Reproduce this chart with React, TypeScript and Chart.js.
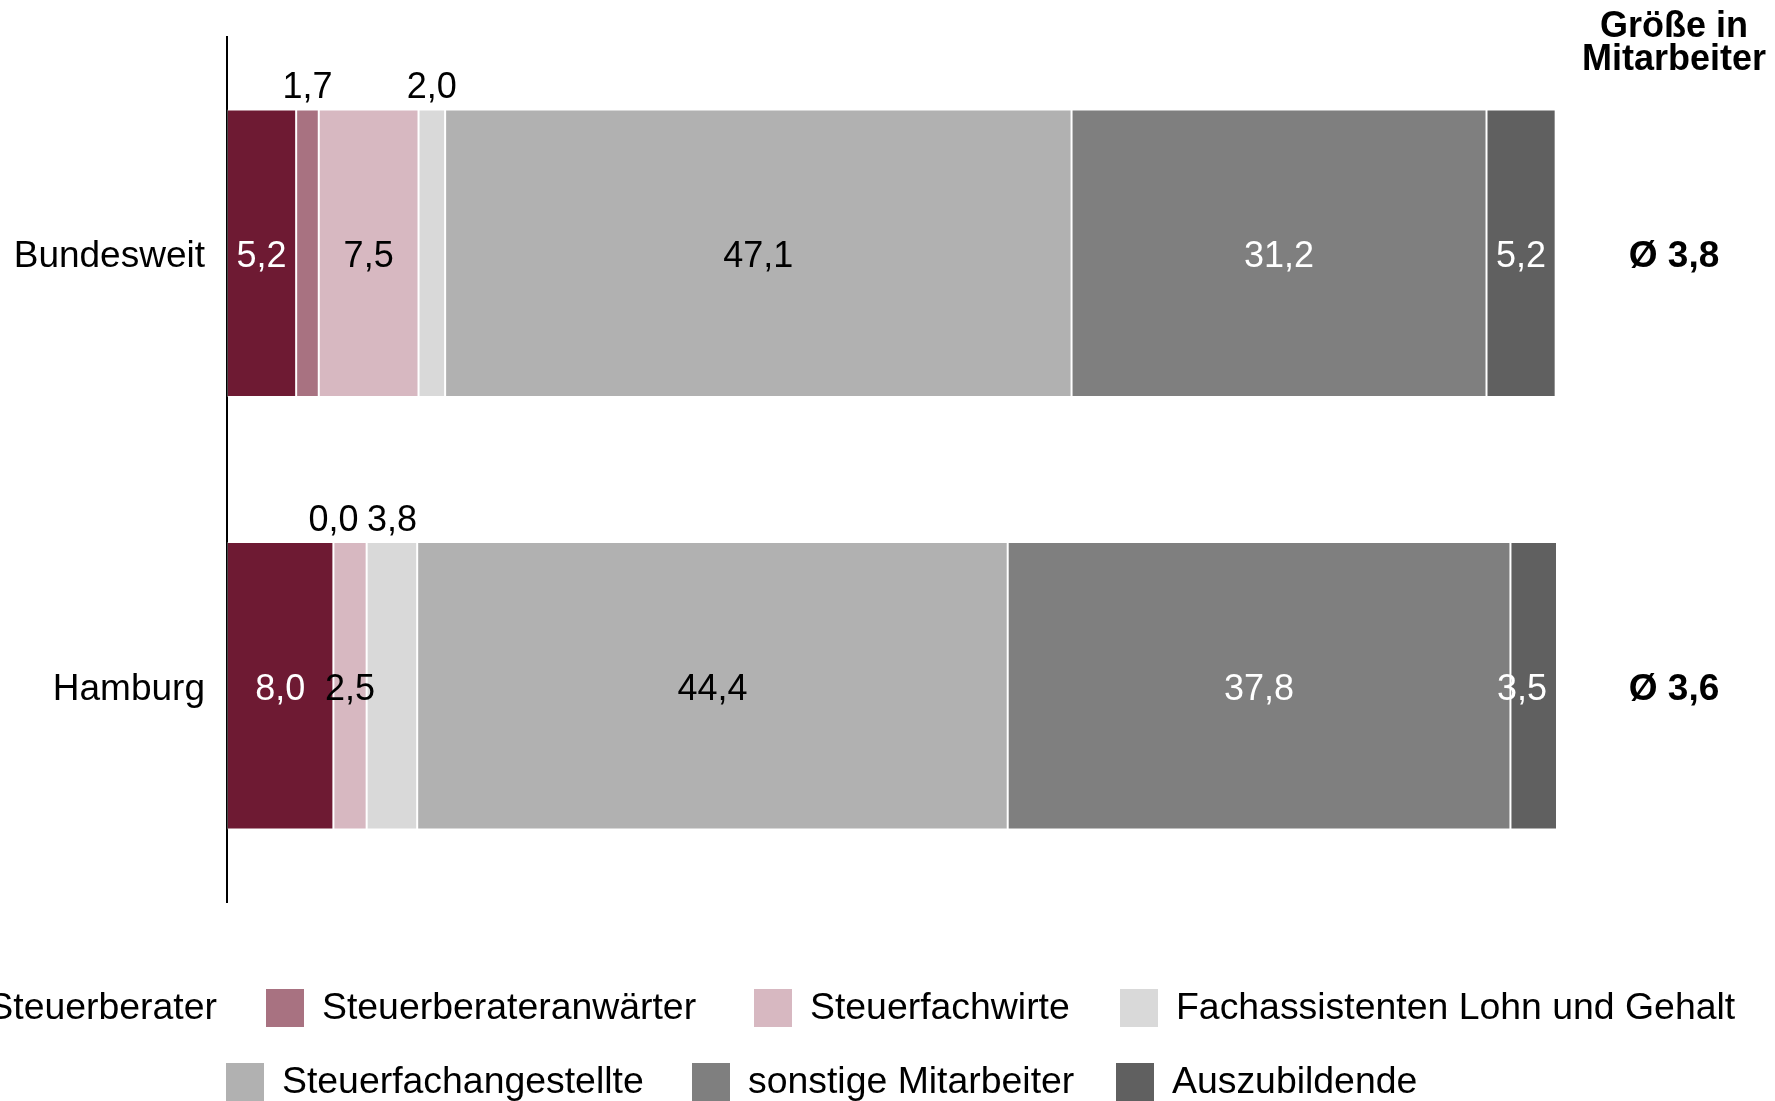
import React, { useEffect, useRef } from 'react';
import { Chart, registerables } from 'chart.js';

Chart.register(...registerables);

// ---- data ----
const categories = ['Bundesweit', 'Hamburg'];
const seriesNames = [
  'Steuerberater',
  'Steuerberateranwärter',
  'Steuerfachwirte',
  'Fachassistenten Lohn und Gehalt',
  'Steuerfachangestellte',
  'sonstige Mitarbeiter',
  'Auszubildende',
];
const steuerberater = [5.2, 8.0];
const steuerberateranwaerter = [1.7, 0.0];
const steuerfachwirte = [7.5, 2.5];
const fachassistenten = [2.0, 3.8];
const steuerfachangestellte = [47.1, 44.4];
const sonstigeMitarbeiter = [31.2, 37.8];
const auszubildende = [5.2, 3.5];
const averageSize = [3.8, 3.6];
const sideTitle = ['Größe in', 'Mitarbeiter'];

// ---- styles ----
const seriesValues = [
  steuerberater,
  steuerberateranwaerter,
  steuerfachwirte,
  fachassistenten,
  steuerfachangestellte,
  sonstigeMitarbeiter,
  auszubildende,
];
const colors = ['#6E1A33', '#A87281', '#D7B8C1', '#D9D9D9', '#B1B1B1', '#7F7F7F', '#606060'];
const labelColors = ['#FFFFFF', '#000000', '#000000', '#000000', '#000000', '#FFFFFF', '#FFFFFF'];
const labelAbove = [false, true, false, true, false, false, false];
// legend layout: series index and swatch left x (null = placed left of the next item)
const legendLayout = [
  { y: 1008, items: [[0, null], [1, 266], [2, 754], [3, 1120]] },
  { y: 1082, items: [[4, 226], [5, 692], [6, 1116]] },
];

const FONT = '"Liberation Sans", Arial, Helvetica, sans-serif';
const TEXT_DY = 4;
const fmt = (v: number) => v.toFixed(1).replace('.', ',');

const annotatePlugin = {
  id: 'annotate',
  afterDatasetsDraw(chart: any) {
    const ctx = chart.ctx as CanvasRenderingContext2D;
    const area = chart.chartArea;
    ctx.save();

    // value labels
    ctx.font = `36px ${FONT}`;
    ctx.textAlign = 'center';
    ctx.textBaseline = 'middle';
    chart.data.datasets.forEach((ds: any, i: number) => {
      const meta = chart.getDatasetMeta(i);
      meta.data.forEach((bar: any, j: number) => {
        const v = ds.data[j] as number;
        const p = bar.getProps(['x', 'y', 'base', 'height'], true);
        const text = fmt(v);
        const w = ctx.measureText(text).width;
        let cx = (p.x + p.base) / 2;
        let cy = p.y + TEXT_DY;
        if (labelAbove[i]) {
          cy = p.y - p.height / 2 - 25 + TEXT_DY;
          ctx.fillStyle = '#000000';
        } else {
          const maxX = area.right - 10 - w / 2;
          if (cx > maxX) cx = maxX;
          ctx.fillStyle = labelColors[i];
        }
        ctx.fillText(text, cx, cy);
      });
    });

    // averages on the right
    const yScale = chart.scales.y;
    const sideX = area.right + 117;
    ctx.fillStyle = '#000000';
    ctx.font = `bold 37px ${FONT}`;
    averageSize.forEach((v, j) => {
      ctx.fillText('Ø ' + fmt(v), sideX, yScale.getPixelForValue(j) + TEXT_DY);
    });

    // side title
    ctx.font = `bold 36px ${FONT}`;
    ctx.textBaseline = 'alphabetic';
    ctx.fillText(sideTitle[0], sideX, 37);
    ctx.fillText(sideTitle[1], sideX, 70);

    // legend
    ctx.font = `37.4px ${FONT}`;
    ctx.textAlign = 'left';
    ctx.textBaseline = 'middle';
    const sw = 38;
    const gapText = 18;
    const gapItem = 49;
    legendLayout.forEach((row) => {
      row.items.forEach(([k, sx], n) => {
        const name = seriesNames[k as number];
        let x = sx as number | null;
        if (x === null) {
          const next = row.items[n + 1][1] as number;
          x = next - gapItem - ctx.measureText(name).width - gapText - sw;
        }
        ctx.fillStyle = colors[k as number];
        ctx.fillRect(x, row.y - sw / 2, sw, sw);
        ctx.fillStyle = '#000000';
        ctx.fillText(name, x + sw + gapText, row.y + 1);
      });
    });

    ctx.restore();
  },
};

export default function App() {
  const canvasRef = useRef<HTMLCanvasElement | null>(null);

  useEffect(() => {
    const canvas = canvasRef.current;
    if (!canvas) return;
    const chart = new Chart(canvas, {
      type: 'bar',
      data: {
        labels: categories,
        datasets: seriesNames.map((name, i) => ({
          label: name,
          data: seriesValues[i],
          backgroundColor: colors[i],
          borderColor: 'rgba(255,255,255,0.28)',
          borderWidth: 1,
          borderSkipped: false,
          categoryPercentage: 1,
          barPercentage: 0.665,
        })),
      },
      options: {
        indexAxis: 'y',
        responsive: false,
        devicePixelRatio: 1,
        animation: false,
        layout: {
          padding: { left: 0, right: 218, top: 37, bottom: 199 },
        },
        plugins: {
          legend: { display: false },
          tooltip: { enabled: false },
          title: { display: false },
        },
        scales: {
          x: {
            stacked: true,
            min: 0,
            max: 100,
            display: false,
          },
          y: {
            stacked: true,
            grid: { display: false, drawTicks: false },
            border: { display: true, color: '#000000', width: 2 },
            ticks: {
              color: '#000000',
              padding: 22,
              labelOffset: TEXT_DY,
              font: { family: FONT, size: 37 },
            },
            afterFit: (scale: any) => {
              scale.width = 227;
              scale.paddingTop = 0;
              scale.paddingBottom = 0;
            },
          },
        },
      },
      plugins: [annotatePlugin],
    });
    return () => chart.destroy();
  }, []);

  return (
    <div style={{ position: 'fixed', left: 0, top: 0, width: 1775, height: 1101, background: '#ffffff' }}>
      <canvas ref={canvasRef} width={1775} height={1101} style={{ width: 1775, height: 1101, display: 'block' }} />
    </div>
  );
}
